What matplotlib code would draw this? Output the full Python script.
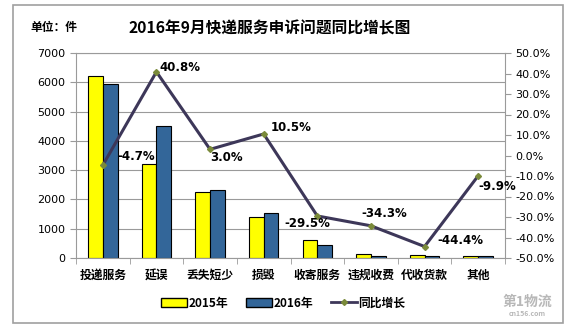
import matplotlib
matplotlib.use("Agg")
import matplotlib.pyplot as plt
from matplotlib.patches import Rectangle
from matplotlib.lines import Line2D
from matplotlib.patches import Patch
import numpy as np

plt.rcParams['font.family'] = ['Noto Sans CJK SC', 'DejaVu Sans']

categories = ["投递服务", "延误", "丢失短少", "损毁", "收寄服务", "违规收费", "代收货款", "其他"]
v2015 = [6220, 3200, 2260, 1390, 610, 125, 115, 60]
v2016 = [5930, 4505, 2328, 1540, 430, 82, 64, 54]
growth = [-4.7, 40.8, 3.0, 10.5, -29.5, -34.3, -44.4, -9.9]
growth_labels = ["-4.7%", "40.8%", "3.0%", "10.5%", "-29.5%", "-34.3%", "-44.4%", "-9.9%"]
left_ticks = [0, 1000, 2000, 3000, 4000, 5000, 6000, 7000]
right_ticks = [-50, -40, -30, -20, -10, 0, 10, 20, 30, 40, 50]

W, H = 580, 333
fig = plt.figure(figsize=(W / 100, H / 100), dpi=100)
fig.patch.set_facecolor("white")

# outer border
fig.patches.append(Rectangle((13 / W, 1 - 323 / H), (563 - 13) / W, (323 - 5) / H,
                             transform=fig.transFigure, fill=False,
                             edgecolor="#a0a0a0", linewidth=1.2))

ax = fig.add_axes([76 / W, 1 - 258 / H, (505 - 76) / W, (258 - 53) / H])
x = np.arange(len(categories))
bw = 0.275
ax.bar(x - bw / 2, v2015, bw, color="#FFFF00", edgecolor="black", linewidth=0.8, zorder=2)
ax.bar(x + bw / 2, v2016, bw, color="#336699", edgecolor="black", linewidth=0.8, zorder=2)
ax.set_ylim(0, 7000)
ax.set_xlim(-0.5, len(categories) - 0.5)
ax.set_yticks(left_ticks)
ax.set_yticklabels([str(t) for t in left_ticks], fontsize=8, family="DejaVu Sans")
ax.yaxis.grid(True, color="#9a9a9a", linewidth=0.8, zorder=0)
ax.set_axisbelow(True)
for s in ax.spines.values():
    s.set_color("#9a9a9a")
ax.tick_params(axis="y", colors="#9a9a9a", labelcolor="black", length=4, width=0.8)
ax.set_xticks(x)
ax.set_xticklabels(categories, fontsize=8.5, fontweight="bold")
ax.tick_params(axis="x", length=0, pad=8)
ax.set_xticks(np.arange(-0.5, len(categories), 1), minor=True)
ax.tick_params(axis="x", which="minor", length=4, color="#9a9a9a")

ax2 = ax.twinx()
ax2.plot(x, growth, color="#3D3759", linewidth=2.2, marker="D", markersize=3,
         markerfacecolor="#7A8A3A", markeredgecolor="#7A8A3A", zorder=3)
ax2.set_ylim(-50, 50)
ax2.set_yticks(right_ticks)
ax2.set_yticklabels([f"{t:.1f}%" for t in right_ticks], fontsize=8, family="DejaVu Sans")
ax2.tick_params(axis="y", colors="#9a9a9a", labelcolor="black", length=4, width=0.8)
for s in ax2.spines.values():
    s.set_visible(False)

offsets = [(0.28, 4, "left"), (0.06, 2, "left"), (0.0, -4, "left"), (0.13, 3, "left"),
           (-0.19, -3.7, "center"), (0.25, 6, "center"), (0.23, 3, "left"), (0.0, -5, "left")]
for i, (g, lab) in enumerate(zip(growth, growth_labels)):
    dx, dy, ha = offsets[i]
    ax2.text(i + dx, g + dy, lab, fontsize=8.5, fontweight="bold", ha=ha, va="center",
             family="DejaVu Sans")

fig.text(30 / W, 1 - 28 / H, "单位：件", fontsize=8.5, fontweight="bold", va="center", ha="left")
fig.text(270 / W, 1 - 28 / H, "2016年9月快递服务申诉问题同比增长图", fontsize=11.3,
         fontweight="bold", va="center", ha="center")

handles = [Patch(facecolor="#FFFF00", edgecolor="black", label="2015年"),
           Patch(facecolor="#336699", edgecolor="black", label="2016年"),
           Line2D([0], [0], color="#3D3759", linewidth=2, marker="D", markersize=3,
                  markerfacecolor="#7A8A3A", markeredgecolor="#7A8A3A", label="同比增长")]
fig.legend(handles=handles, loc="center", bbox_to_anchor=(283 / W, 1 - 303 / H), ncol=3,
           frameon=False, prop={"weight": "bold", "size": 8.5},
           handlelength=2.2, handleheight=0.7, columnspacing=1.5, handletextpad=0.15)

fig.text(527 / W, 1 - 302 / H, "第1物流", fontsize=10, fontweight="bold", color="#b8b8b8",
         ha="center", va="center")
fig.text(527 / W, 1 - 314 / H, "cn156.com", fontsize=5, fontweight="bold", color="#b8b8b8",
         ha="center", va="center")

fig.savefig("out.png", dpi=100)
